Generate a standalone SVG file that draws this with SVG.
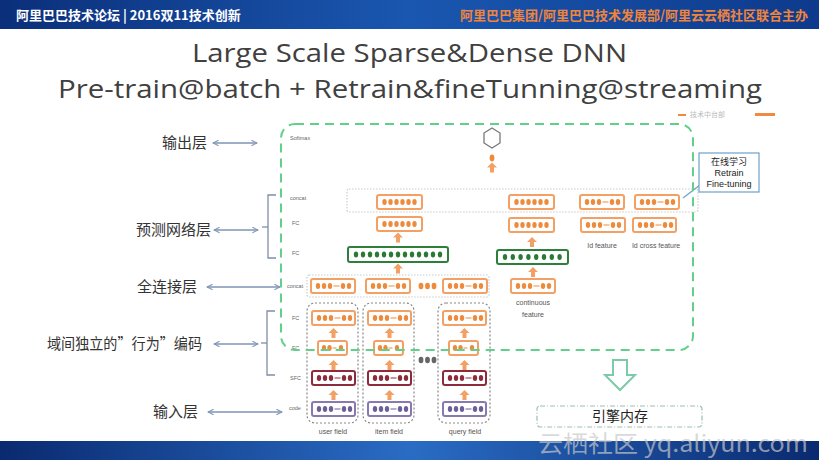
<svg xmlns="http://www.w3.org/2000/svg" xmlns:xlink="http://www.w3.org/1999/xlink" width="819" height="460" viewBox="0 0 819 460">
<style>
.cn{font-family:"Noto Sans CJK SC","Noto Sans",sans-serif;}
.lbl{font-family:"Noto Sans CJK SC","Noto Sans",sans-serif;font-size:15px;fill:#333;}
.tiny{font-family:"Liberation Sans",Arial,sans-serif;font-size:5.5px;fill:#666;}
.cap{font-family:"Liberation Sans",Arial,sans-serif;font-size:7px;fill:#555;text-anchor:middle;}
.ob{fill:#fff;stroke:#f3a064;stroke-width:2;}
.gb{fill:#fff;stroke:#2e7f3c;stroke-width:2;}
.rb{fill:#fff;stroke:#8c2b3b;stroke-width:2;}
.pb{fill:#fff;stroke:#8a78b0;stroke-width:2;}
.fld{fill:none;stroke:#888;stroke-width:1.2;stroke-dasharray:2 2;}
.dotbox{fill:none;stroke:#ccc;stroke-width:1.2;stroke-dasharray:1.5 1.5;}
.arr{fill:none;stroke:#7f95b5;stroke-width:1.3;}
.brk{fill:none;stroke:#7f8fa5;stroke-width:1.3;}
</style>
<defs>
<linearGradient id="hdr" x1="0" y1="0" x2="1" y2="0">
<stop offset="0" stop-color="#0b2f7a"/><stop offset="0.5" stop-color="#1a57b0"/><stop offset="1" stop-color="#0d3a8c"/>
</linearGradient>
<linearGradient id="ftr" x1="0" y1="0" x2="1" y2="0">
<stop offset="0" stop-color="#0a2a70"/><stop offset="0.5" stop-color="#2a6cc4"/><stop offset="1" stop-color="#0a2a70"/>
</linearGradient>
<marker id="ah" viewBox="0 0 10 10" refX="9" refY="5" markerWidth="7" markerHeight="7" orient="auto-start-reverse" markerUnits="userSpaceOnUse">
<polyline points="1,1 9,5 1,9" fill="none" stroke="#7f95b5" stroke-width="1.5"/>
</marker>
<polygon id="ua" points="0,-5 5,0 2,0 2,5 -2,5 -2,0 -5,0"/>
<g id="d6"><ellipse cx="7.5" cy="0" rx="2.2" ry="3"/><ellipse cx="13.5" cy="0" rx="2.2" ry="3"/><ellipse cx="19.5" cy="0" rx="2.2" ry="3"/><ellipse cx="25.5" cy="0" rx="2.2" ry="3"/><ellipse cx="31.5" cy="0" rx="2.2" ry="3"/><ellipse cx="37.5" cy="0" rx="2.2" ry="3"/></g>
<g id="d32"><ellipse cx="7" cy="0" rx="2.2" ry="3"/><ellipse cx="13" cy="0" rx="2.2" ry="3"/><ellipse cx="19" cy="0" rx="2.2" ry="3"/><rect x="22.5" y="-0.5" width="6" height="1"/><ellipse cx="32" cy="0" rx="2.2" ry="3"/><ellipse cx="38" cy="0" rx="2.2" ry="3"/></g>
<g id="d21"><ellipse cx="6" cy="0" rx="2.2" ry="3"/><ellipse cx="11.5" cy="0" rx="2.2" ry="3"/><rect x="14.5" y="-0.5" width="4" height="1"/><ellipse cx="23" cy="0" rx="2.2" ry="3"/></g>
<g id="d13"><ellipse cx="8" cy="0" rx="2.2" ry="3"/><ellipse cx="15" cy="0" rx="2.2" ry="3"/><ellipse cx="22" cy="0" rx="2.2" ry="3"/><ellipse cx="29" cy="0" rx="2.2" ry="3"/><ellipse cx="36" cy="0" rx="2.2" ry="3"/><ellipse cx="43" cy="0" rx="2.2" ry="3"/><ellipse cx="50" cy="0" rx="2.2" ry="3"/><ellipse cx="57" cy="0" rx="2.2" ry="3"/><ellipse cx="64" cy="0" rx="2.2" ry="3"/><ellipse cx="71" cy="0" rx="2.2" ry="3"/><ellipse cx="78" cy="0" rx="2.2" ry="3"/><ellipse cx="85" cy="0" rx="2.2" ry="3"/><ellipse cx="92" cy="0" rx="2.2" ry="3"/></g>
<g id="d8"><ellipse cx="8" cy="0" rx="2.2" ry="3"/><ellipse cx="15.8" cy="0" rx="2.2" ry="3"/><ellipse cx="23.6" cy="0" rx="2.2" ry="3"/><ellipse cx="31.4" cy="0" rx="2.2" ry="3"/><ellipse cx="39.2" cy="0" rx="2.2" ry="3"/><ellipse cx="47" cy="0" rx="2.2" ry="3"/><ellipse cx="54.8" cy="0" rx="2.2" ry="3"/><ellipse cx="62.6" cy="0" rx="2.2" ry="3"/></g>
</defs>

<rect x="0" y="0" width="819" height="460" fill="#fff"/>

<!-- header -->
<g id="header">
<rect x="0" y="0" width="819" height="29" fill="url(#hdr)"/>
<text x="16" y="20" class="cn" font-size="13" font-weight="bold" fill="#fff">阿里巴巴技术论坛 | 2016双11技术创新</text>
<text x="808" y="20" class="cn" font-size="13" font-weight="bold" fill="#f0843a" text-anchor="end">阿里巴巴集团/阿里巴巴技术发展部/阿里云云栖社区联合主办</text>
</g>

<!-- footer -->
<g id="footer">
<rect x="0" y="441" width="819" height="19" fill="url(#ftr)"/>
<text x="538" y="452" class="cn" font-size="23" fill="#c8c8c8" fill-opacity="0.7" textLength="270" lengthAdjust="spacingAndGlyphs">云栖社区 yq.aliyun.com</text>
</g>

<!-- title -->
<g id="title" font-family="'Open Sans','Noto Sans',sans-serif" fill="#404040" font-size="26">
<text x="192" y="62" textLength="435" lengthAdjust="spacingAndGlyphs">Large Scale Sparse&amp;Dense DNN</text>
<text x="58" y="98" textLength="704" lengthAdjust="spacingAndGlyphs">Pre-train@batch + Retrain&amp;fineTunning@streaming</text>
</g>

<!-- faint logo marks top right -->
<g id="logo">
<rect x="678" y="114" width="8" height="2" fill="#f08a40"/>
<text x="690" y="117" class="cn" font-size="7" fill="#bbb">技术中台部</text>
<rect x="755" y="113" width="20" height="3" fill="#f08a40"/>
</g>

<!-- left labels -->
<g id="lbl-output"><text x="207" y="148" class="lbl" text-anchor="end">输出层</text></g>
<g id="lbl-predict"><text x="211" y="235" class="lbl" text-anchor="end">预测网络层</text></g>
<g id="lbl-fc"><text x="197" y="292" class="lbl" text-anchor="end">全连接层</text></g>
<g id="lbl-encode"><text x="47" y="349" class="lbl" textLength="155" lengthAdjust="spacingAndGlyphs">域间独立的”行为”编码</text></g>
<g id="lbl-input"><text x="198" y="417" class="lbl" text-anchor="end">输入层</text></g>

<!-- brackets -->
<g id="bracket1"><polyline class="brk" points="276,195 268,195 268,258 276,258"/><line class="brk" x1="262" y1="227" x2="268" y2="227"/></g>
<g id="bracket2"><polyline class="brk" points="275,311 267,311 267,375 275,375"/><line class="brk" x1="261" y1="343" x2="267" y2="343"/></g>

<!-- small layer labels -->
<g id="layer-names">
<text x="290" y="140" class="tiny">Softmax</text>
<text x="290" y="200" class="tiny">concat</text>
<text x="292" y="225" class="tiny">FC</text>
<text x="292" y="255" class="tiny">FC</text>
<text x="287" y="288" class="tiny">concat</text>
<text x="292" y="320" class="tiny">FC</text>
<text x="292" y="350" class="tiny">FC</text>
<text x="290" y="380" class="tiny">SFC</text>
<text x="289" y="410" class="tiny">code</text>
</g>

<!-- softmax -->
<g id="softmax">
<polygon points="492,128 500,133 500,143 492,148 484,143 484,133" fill="#fff" stroke="#777" stroke-width="1.3"/>
<ellipse cx="492" cy="158" rx="2.4" ry="3.4" fill="#ee8a3c"/>
</g>

<!-- concat top row -->
<g id="concat-top">
<rect class="dotbox" x="347" y="189" width="351" height="23" rx="2"/>
<rect class="ob" x="377" y="195" width="45" height="14" rx="2"/><use href="#d6" x="377" y="202" fill="#ee8a3c"/>
<rect class="ob" x="509" y="195" width="45" height="14" rx="2"/><use href="#d6" x="509" y="202" fill="#ee8a3c"/>
<rect class="ob" x="580" y="195" width="44" height="14" rx="2"/><use href="#d32" x="580" y="202" fill="#ee8a3c"/>
<rect class="ob" x="635" y="195" width="44" height="14" rx="2"/><use href="#d32" x="635" y="202" fill="#ee8a3c"/>
</g>

<!-- FC row -->
<g id="fc-left"><rect class="ob" x="377" y="217" width="45" height="14" rx="2"/><use href="#d6" x="377" y="224" fill="#ee8a3c"/></g>
<g id="fc-right"><rect class="ob" x="509" y="218" width="45" height="14" rx="2"/><use href="#d6" x="509" y="225" fill="#ee8a3c"/></g>
<g id="id-feature"><rect class="ob" x="581" y="218" width="44" height="14" rx="2"/><use href="#d32" x="581" y="225" fill="#ee8a3c"/><text x="602" y="248" class="cap">Id feature</text></g>
<g id="id-cross-feature"><rect class="ob" x="633" y="218" width="43" height="14" rx="2"/><use href="#d32" x="633" y="225" fill="#ee8a3c"/><text x="656" y="248" class="cap">Id cross feature</text></g>

<!-- green FC rows -->
<g id="green-left"><rect class="gb" x="348" y="247" width="100" height="15" rx="2"/><use href="#d13" x="348" y="254.5" fill="#2a7a35"/></g>
<g id="green-right"><rect class="gb" x="497" y="250" width="71" height="14" rx="2"/><use href="#d8" x="497" y="257" fill="#2a7a35"/></g>

<!-- continuous feature -->
<g id="continuous-feature"><rect class="ob" x="511" y="279" width="44" height="14" rx="2"/><use href="#d32" x="511" y="286" fill="#ee8a3c"/><text x="533" y="305" class="cap">continuous</text><text x="533" y="317" class="cap">feature</text></g>

<!-- concat (full-connect) row -->
<g id="concat-mid">
<rect class="dotbox" x="307" y="275" width="182" height="22" rx="2"/>
<rect class="ob" x="311" y="279" width="44" height="14" rx="2"/><use href="#d32" x="311" y="286" fill="#ee8a3c"/>
<rect class="ob" x="366" y="279" width="44" height="14" rx="2"/><use href="#d32" x="366" y="286" fill="#ee8a3c"/>
<ellipse cx="421" cy="286" rx="2.4" ry="3.2" fill="#ee8a3c"/><ellipse cx="427.5" cy="286" rx="2.4" ry="3.2" fill="#ee8a3c"/><ellipse cx="434" cy="286" rx="2.4" ry="3.2" fill="#ee8a3c"/>
<rect class="ob" x="443" y="279" width="44" height="14" rx="2"/><use href="#d32" x="443" y="286" fill="#ee8a3c"/>
</g>

<!-- fields -->
<g id="user-field">
<rect class="fld" x="307" y="303" width="51" height="120" rx="8"/>
<rect class="ob" x="312" y="311" width="43" height="14" rx="2"/><use href="#d32" x="312" y="318" fill="#ee8a3c"/>
<rect class="ob" x="318" y="341" width="29" height="14" rx="2"/><use href="#d21" x="318" y="348" fill="#ee8a3c"/>
<rect class="rb" x="312" y="371" width="43" height="14" rx="2"/><use href="#d32" x="312" y="378" fill="#8c2b3b"/>
<rect class="pb" x="312" y="402" width="43" height="14" rx="2"/><use href="#d32" x="312" y="409" fill="#6f5f98"/>
<text x="333" y="434" class="cap">user field</text>
</g>
<g id="item-field">
<rect class="fld" x="363" y="303" width="51" height="120" rx="8"/>
<rect class="ob" x="368" y="311" width="43" height="14" rx="2"/><use href="#d32" x="368" y="318" fill="#ee8a3c"/>
<rect class="ob" x="374" y="341" width="29" height="14" rx="2"/><use href="#d21" x="374" y="348" fill="#ee8a3c"/>
<rect class="rb" x="368" y="371" width="43" height="14" rx="2"/><use href="#d32" x="368" y="378" fill="#8c2b3b"/>
<rect class="pb" x="368" y="402" width="43" height="14" rx="2"/><use href="#d32" x="368" y="409" fill="#6f5f98"/>
<text x="389" y="434" class="cap">item field</text>
</g>
<g id="more-fields">
<ellipse cx="421" cy="360" rx="2.4" ry="3.2" fill="#666"/><ellipse cx="427.5" cy="360" rx="2.4" ry="3.2" fill="#666"/><ellipse cx="434" cy="360" rx="2.4" ry="3.2" fill="#666"/>
</g>
<g id="query-field">
<rect class="fld" x="438" y="303" width="52" height="120" rx="8"/>
<rect class="ob" x="443" y="311" width="43" height="14" rx="2"/><use href="#d32" x="443" y="318" fill="#ee8a3c"/>
<rect class="ob" x="449" y="341" width="29" height="14" rx="2"/><use href="#d21" x="449" y="348" fill="#ee8a3c"/>
<rect class="rb" x="443" y="371" width="43" height="14" rx="2"/><use href="#d32" x="443" y="378" fill="#8c2b3b"/>
<rect class="pb" x="443" y="402" width="43" height="14" rx="2"/><use href="#d32" x="443" y="409" fill="#6f5f98"/>
<text x="465" y="434" class="cap">query field</text>
</g>

<!-- callout -->
<g id="callout">
<line x1="700" y1="185" x2="683" y2="198" stroke="#6ea0c8" stroke-width="1.2"/>
<rect x="699" y="153" width="60" height="39" fill="#fff" stroke="#6ea0c8" stroke-width="1.2"/>
<text x="729" y="165" class="cn" font-size="9" fill="#222" text-anchor="middle">在线学习</text>
<text x="729" y="176" font-family="'Liberation Sans',Arial,sans-serif" font-size="9" fill="#222" text-anchor="middle">Retrain</text>
<text x="729" y="187" font-family="'Liberation Sans',Arial,sans-serif" font-size="9" fill="#222" text-anchor="middle">Fine-tuning</text>
</g>

<!-- engine memory -->
<g id="engine-memory">
<rect x="537" y="406" width="165" height="21" rx="3" fill="none" stroke="#9bbfae" stroke-width="1.2" stroke-dasharray="5 2 1 2"/>
<text x="620" y="421" class="cn" font-size="14" fill="#222" text-anchor="middle">引擎内存</text>
</g>

<!-- connectors -->
<g id="connectors">
<g fill="#f3a064">
<use href="#ua" x="492" y="167.5"/>
<use href="#ua" x="398" y="237.5"/>
<use href="#ua" x="532" y="242"/>
<use href="#ua" x="398" y="268.5"/>
<use href="#ua" x="533" y="272"/>
<use href="#ua" x="333.5" y="333"/><use href="#ua" x="333.5" y="365"/><use href="#ua" x="333.5" y="395"/>
<use href="#ua" x="389.5" y="333"/><use href="#ua" x="389.5" y="365"/><use href="#ua" x="389.5" y="395"/>
<use href="#ua" x="464.5" y="333"/><use href="#ua" x="464.5" y="365"/><use href="#ua" x="464.5" y="395"/>
</g>
<line class="arr" x1="213" y1="143" x2="257" y2="143" marker-start="url(#ah)" marker-end="url(#ah)"/>
<line class="arr" x1="214" y1="230" x2="258" y2="230" marker-start="url(#ah)" marker-end="url(#ah)"/>
<line class="arr" x1="207" y1="287" x2="280" y2="287" marker-start="url(#ah)" marker-end="url(#ah)"/>
<line class="arr" x1="214" y1="344" x2="258" y2="344" marker-start="url(#ah)" marker-end="url(#ah)"/>
<line class="arr" x1="208" y1="412" x2="282" y2="412" marker-start="url(#ah)" marker-end="url(#ah)"/>
<polygon points="613,360 627,360 627,375 635,375 620,390 605,375 613,375" fill="#fff" stroke="#7ccaa8" stroke-width="2" stroke-linejoin="miter"/>
</g>

<!-- online region -->
<g id="online-region">
<rect x="281" y="124" width="412" height="226" rx="14" fill="none" stroke="#62d08a" stroke-width="2" stroke-dasharray="9 6"/>
</g>
</svg>
